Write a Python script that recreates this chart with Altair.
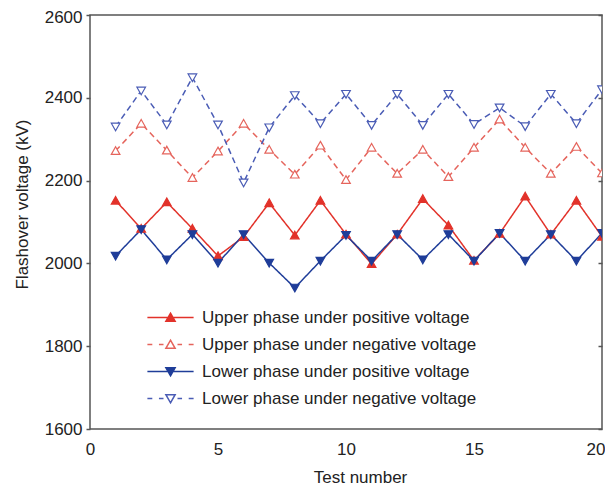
import altair as alt
import pandas as pd

test_number = list(range(1, 21))
series_names = [
    "Upper phase under positive voltage",
    "Upper phase under negative voltage",
    "Lower phase under positive voltage",
    "Lower phase under negative voltage",
]
upper_pos = [2152, 2084, 2148, 2084, 2018, 2064, 2146, 2068, 2152, 2070,
             1999, 2070, 2156, 2092, 2007, 2072, 2162, 2070, 2152, 2065]
upper_neg = [2272, 2338, 2273, 2207, 2271, 2338, 2275, 2215, 2285, 2202,
             2280, 2217, 2275, 2209, 2280, 2348, 2280, 2217, 2282, 2218]
lower_pos = [2018, 2082, 2009, 2070, 2001, 2070, 2001, 1941, 2006, 2068,
             2006, 2070, 2009, 2070, 2006, 2073, 2006, 2070, 2006, 2073]
lower_neg = [2330, 2417, 2335, 2449, 2335, 2195, 2328, 2406, 2338, 2409,
             2334, 2409, 2334, 2409, 2336, 2376, 2331, 2409, 2338, 2420]
series_values = [upper_pos, upper_neg, lower_pos, lower_neg]

x_ticks = [0, 5, 10, 15, 20]
y_ticks = [1600, 1800, 2000, 2200, 2400, 2600]

line_colors = ["#e2322a", "#e5645c", "#1f3d99", "#4a5cb5"]
fill_colors = ["#e2322a", "#ffffff", "#1f3d99", "#ffffff"]
dashes = [[1, 0], [6, 4], [1, 0], [6, 4]]
tri_up = "M0,-0.62L0.66,0.55L-0.66,0.55Z"
tri_dn = "M0,0.62L0.66,-0.55L-0.66,-0.55Z"
marker_paths = [tri_up, tri_up, tri_dn, tri_dn]
solid_seg = "M-3.3,0H3.3"
dash_seg = "M-3.3,0H-2.6M-1.65,0H-1.0M1.0,0H1.65M2.6,0H3.3"
legend_paths = [solid_seg + tri_up, dash_seg + tri_up, solid_seg + tri_dn, dash_seg + tri_dn]

rows = []
for name, vals in zip(series_names, series_values):
    for t, v in zip(test_number, vals):
        rows.append({"test": t, "voltage": v, "series": name})
df = pd.DataFrame(rows)

FONT = "Liberation Sans"

x_scale = alt.Scale(domain=[0, 20], nice=False, zero=False)
y_scale = alt.Scale(domain=[1600, 2600], nice=False, zero=False)

x_enc = alt.X(
    "test:Q", scale=x_scale,
    axis=alt.Axis(
        values=x_ticks, ticks=False, domain=False, grid=False, labelPadding=12,
        labelFontSize=17, labelFont=FONT, labelColor="#222", labelFlush=False,
        labelAlign={"condition": {"test": "datum.value == 20", "value": "right"}, "value": "center"},
        labelOffset={"condition": {"test": "datum.value == 20", "value": 3}, "value": 0},
        title="Test number", titleFont=FONT, titleFontSize=17, titleFontWeight="normal",
        titleColor="#222", titleX=270, titleY=53, titleBaseline="alphabetic",
        titleAlign="center",
    ),
)
y_enc = alt.Y(
    "voltage:Q", scale=y_scale,
    axis=alt.Axis(
        values=y_ticks, format="d", tickSize=4, tickColor="#555", tickWidth=1.5,
        domain=False, grid=False, labelPadding=4, labelFontSize=17, labelFont=FONT,
        labelColor="#222", labelFlush=False,
        labelOffset={"condition": {"test": "datum.value == 2600", "value": 2}, "value": 0},
        title="Flashover voltage (kV)", titleFont=FONT, titleFontSize=17,
        titleFontWeight="normal", titleColor="#222", titleAngle=270,
        titleX=-63, titleY=189, titleBaseline="alphabetic", titleAlign="center",
    ),
)
y_plain = alt.Y("voltage:Q", scale=y_scale, axis=None)
y_right = alt.Y(
    "voltage:Q", scale=y_scale,
    axis=alt.Axis(
        orient="right", values=y_ticks, tickSize=4, tickColor="#555", tickWidth=1.5,
        domain=False, grid=False, labels=False, title=None, offset=-4,
    ),
)

def sc(rng):
    return alt.Scale(domain=series_names, range=rng)

lines = alt.Chart(df).mark_line(strokeWidth=1.5, clip=True).encode(
    x=x_enc, y=y_enc,
    color=alt.Color("series:N", scale=sc(line_colors), legend=None),
    strokeDash=alt.StrokeDash("series:N", scale=sc(dashes), legend=None),
)

points = alt.Chart(df).mark_point(size=170, strokeWidth=1.2, opacity=1, clip=True).encode(
    x=x_enc, y=y_plain,
    shape=alt.Shape("series:N", scale=sc(marker_paths), legend=None),
    stroke=alt.Stroke("series:N", scale=sc(line_colors), legend=None),
    fill=alt.Fill("series:N", scale=sc(fill_colors), legend=None),
)

legend_layer = alt.Chart(df).transform_filter("false").mark_point(opacity=1).encode(
    x=x_enc, y=y_right,
    shape=alt.Shape("series:N", scale=sc(legend_paths), legend=alt.Legend(title=None)),
    stroke=alt.Stroke("series:N", scale=sc(line_colors), legend=alt.Legend(title=None)),
    fill=alt.Fill("series:N", scale=sc(fill_colors), legend=alt.Legend(title=None)),
)

chart = alt.layer(lines, points, legend_layer).resolve_scale(
    color="independent", strokeDash="independent", shape="independent",
    stroke="independent", fill="independent",
).resolve_axis(y="independent").properties(
    width=512, height=414,
    padding={"left": 82, "top": 7, "right": 3, "bottom": 57},
    autosize=alt.AutoSizeParams(type="none"),
    background="white",
).configure_view(
    stroke="#555", strokeWidth=1.5,
).configure_legend(
    orient="none", legendX=72, legendY=294, padding=0,
    symbolSize=196, symbolStrokeWidth=1.5, labelFont=FONT, labelFontSize=17,
    labelColor="#222", labelOffset=23, rowPadding=9, labelLimit=500,
)

chart.save("out.html", embed_options={"renderer": "svg", "actions": False})
